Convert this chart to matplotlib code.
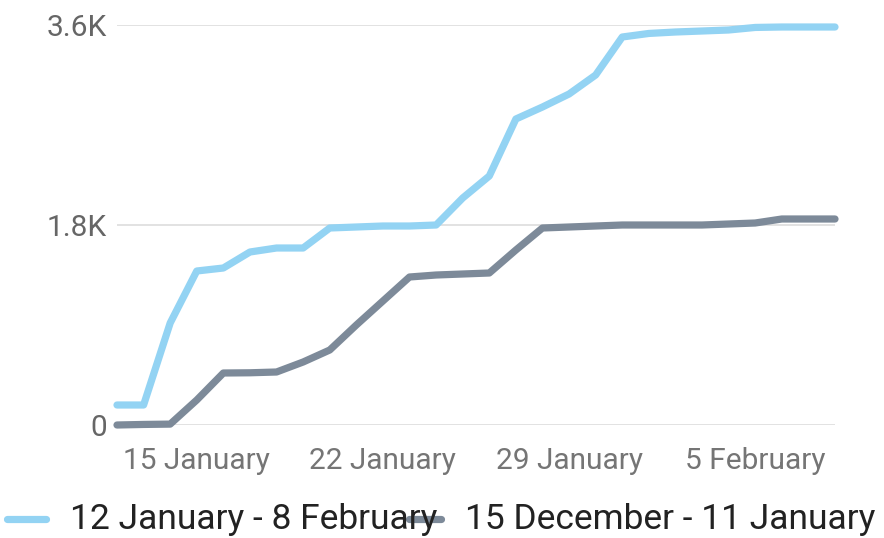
import matplotlib
matplotlib.use("Agg")
import matplotlib.pyplot as plt
import numpy as np
import pandas as pd
from matplotlib.lines import Line2D

plt.rcParams['font.family'] = ['Roboto', 'DejaVu Sans']

dates = pd.date_range("2024-01-12", periods=28, freq="D")
current = [180, 180, 918, 1386, 1413, 1557, 1593, 1593, 1773, 1782, 1791, 1791, 1800, 2043,
           2241, 2754, 2862, 2979, 3150, 3492, 3524, 3537, 3546, 3555, 3578, 3582, 3582, 3582]
previous = [0, 5, 8, 225, 468, 470, 477, 567, 675, 900, 1116, 1332, 1350, 1359, 1368, 1575,
            1773, 1782, 1791, 1800, 1800, 1800, 1800, 1809, 1818, 1854, 1854, 1854]
series_labels = ["12 January - 8 February", "15 December - 11 January"]
y_ticks = [0, 1800, 3600]
y_tick_labels = ["0", "1.8K", "3.6K"]
x_tick_dates = pd.to_datetime(["2024-01-15", "2024-01-22", "2024-01-29", "2024-02-05"])
x_tick_labels = ["15 January", "22 January", "29 January", "5 February"]

c_cur = "#93d3f3"
c_prev = "#7d8a99"

W, H = 884, 538
fig = plt.figure(figsize=(W / 100, H / 100), dpi=100)
ax = fig.add_axes([117 / W, (H - 425) / H, (835 - 117) / W, 400 / H])

ax.plot(dates, current, color=c_cur, lw=5.2, solid_capstyle="round", solid_joinstyle="round", clip_on=False, zorder=3)
ax.plot(dates, previous, color=c_prev, lw=5.2, solid_capstyle="round", solid_joinstyle="round", clip_on=False, zorder=3)

ax.set_xlim(dates[0], dates[-1])
ax.set_ylim(0, 3600)
ax.set_yticks(y_ticks)
ax.set_yticklabels(y_tick_labels)
ax.set_xticks(x_tick_dates)
ax.set_xticklabels(x_tick_labels)
ax.tick_params(axis="y", length=0, pad=7, labelsize=21.5, labelcolor="#666666")
ax.tick_params(axis="x", length=0, pad=16, labelsize=21.5, labelcolor="#757575")
ax.grid(axis="y", color="#dddddd", lw=1.2)
ax.grid(axis="x", visible=False)
for s in ax.spines.values():
    s.set_visible(False)
ax.set_axisbelow(True)

# legend
ly = 1 - 519 / H
fig.add_artist(Line2D([7 / W, 46 / W], [ly, ly], color=c_cur, lw=5.2, solid_capstyle="round"))
fig.text(70 / W, ly, series_labels[0], fontsize=25.5, color="#222222", va="center", ha="left")
fig.text(465 / W, ly, series_labels[1], fontsize=25.5, color="#222222", va="center", ha="left")
fig.add_artist(Line2D([409 / W, 441 / W], [ly, ly], color=c_prev, lw=5.2, solid_capstyle="round"))

fig.savefig("out.png", dpi=100, facecolor="white")
